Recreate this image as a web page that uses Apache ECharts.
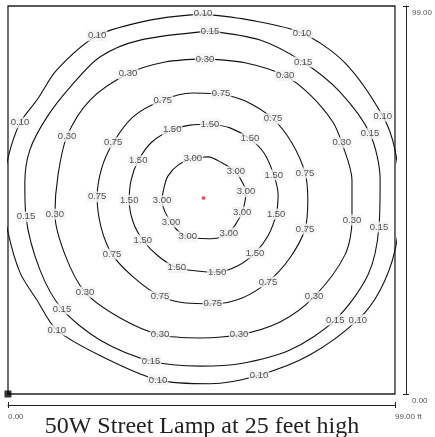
<!DOCTYPE html>
<html>
<head>
<meta charset="utf-8">
<script src="https://cdn.jsdelivr.net/npm/echarts@6/dist/echarts.min.js"></script>
<style>
html,body{margin:0;padding:0;background:#fff;}
#chart{width:435px;height:437px;}
</style>
</head>
<body>
<div id="chart"></div>
<script>
// ---- Data (feet) ----
const titleText = '50W Street Lamp at 25 feet high';
const axisMin = 0;
const axisMax = 99;
const axisUnit = 'ft';
const lampPosition = [50, 50];
const originMarker = [0, 0];

const contourLevels = ['0.10', '0.15', '0.30', '0.75', '1.50', '3.00'];

const contour010 = [[49.9,97.0],[61.9,95.4],[75.2,92.1],[86.2,84.5],[95.9,70.9],[99.0,62.3],[100.3,49.5],[99.0,36.7],[95.2,26.5],[89.5,18.9],[77.3,10.0],[64.2,4.8],[51.7,2.6],[38.4,3.6],[24.8,9.2],[12.5,16.3],[7.4,24.0],[3.1,30.9],[0,41.3],[-1.3,50.8],[0,60.2],[3.1,69.2],[7.4,75.0],[12.5,82.7],[22.8,91.4],[36.3,95.4],[49.9,97.0]];
const contour015 = [[51.7,92.6],[64.5,90.3],[75.5,84.7],[84.9,77.1],[92.6,66.4],[95.2,54.6],[94.9,42.6],[92.1,30.4],[83.7,18.9],[72.1,11.2],[59.3,7.7],[49.1,7.1],[36.6,8.4],[23.5,13.8],[13.8,21.7],[8.2,31.6],[4.6,45.2],[4.3,53.8],[5.6,62.3],[10.0,70.7],[15.9,78.3],[23.5,86.0],[33.8,90.3],[51.7,92.6]];
const contour030 = [[50.4,85.5],[60.6,84.5],[70.9,81.2],[77.3,76.3],[83.1,69.4],[85.4,64.1],[88.0,54.6],[88.0,44.4],[86.2,35.5],[78.3,24.8],[69.6,18.4],[59.1,15.1],[49.1,14.3],[38.9,15.1],[28.7,19.4],[19.7,26.0],[14.6,35.5],[12.0,45.9],[12.8,55.9],[15.1,65.8],[21.0,75.0],[30.7,81.7],[40.2,84.7],[50.4,85.5]];
const contour075 = [[54.5,76.6],[60.6,74.8],[67.8,70.2],[72.6,64.1],[76.0,56.4],[76.7,49.5],[76.0,42.1],[72.1,34.7],[66.5,28.6],[59.9,24.5],[52.4,23.0],[45.5,23.2],[38.9,25.0],[32.0,29.9],[26.6,35.7],[23.8,42.6],[22.8,50.3],[24.0,57.7],[26.9,64.1],[32.0,70.7],[39.6,75.0],[47.1,76.8],[54.5,76.6]];
const contour150 = [[51.7,68.9],[56.8,67.9],[61.9,65.1],[65.5,61.5],[68.0,55.9],[69.1,50.8],[68.6,45.9],[66.5,40.3],[63.2,36.0],[58.8,32.7],[53.5,31.1],[48.3,31.4],[43.2,32.2],[38.4,35.2],[34.5,39.3],[32.0,43.9],[31.0,49.5],[31.5,54.6],[33.3,59.5],[36.8,64.3],[42.0,67.4],[46.6,68.6],[51.7,68.9]];
const contour300 = [[49.3,60.4],[51.2,60.5],[54.7,59.0],[58.3,56.7],[59.9,54.1],[60.9,51.6],[60.6,49.0],[59.9,46.4],[58.3,43.4],[56.5,41.1],[53.7,39.8],[51.2,39.6],[46.0,40.1],[43.5,41.6],[41.7,43.9],[40.2,46.4],[39.4,49.3],[39.9,52.6],[40.9,55.6],[43.5,58.4],[47.3,60.2],[49.3,60.4]];

const labels010 = [[49.9,97.0],[75.2,92.1],[95.9,70.9],[89.5,18.9],[64.2,4.8],[38.4,3.6],[12.5,16.3],[3.1,69.2],[22.8,91.4]];
const labels015 = [[51.7,92.6],[75.5,84.7],[92.6,66.4],[94.9,42.6],[83.7,18.9],[36.6,8.4],[13.8,21.7],[4.6,45.2]];
const labels030 = [[50.4,85.5],[70.9,81.2],[85.4,64.1],[88.0,44.4],[78.3,24.8],[59.1,15.1],[38.9,15.1],[19.7,26.0],[12.0,45.9],[15.1,65.8],[30.7,81.7]];
const labels075 = [[54.5,76.6],[67.8,70.2],[76.0,56.4],[76.0,42.1],[66.5,28.6],[52.4,23.0],[38.9,25.0],[26.6,35.7],[22.8,50.3],[26.9,64.1],[39.6,75.0]];
const labels150 = [[51.7,68.9],[61.9,65.1],[68.0,55.9],[68.6,45.9],[63.2,36.0],[53.5,31.1],[43.2,32.2],[34.5,39.3],[31.0,49.5],[33.3,59.5],[42.0,67.4]];
const labels300 = [[47.3,60.2],[58.3,56.7],[60.9,51.6],[59.9,46.4],[56.5,41.1],[46.0,40.1],[41.7,43.9],[39.4,49.3]];

const contourLines = [contour010, contour015, contour030, contour075, contour150, contour300];
const contourLabels = [labels010, labels015, labels030, labels075, labels150, labels300];

// ---- Chart ----
const chart = echarts.init(document.getElementById('chart'), null, {renderer: 'canvas'});
const sans = 'Liberation Sans, Arial, sans-serif';
const series = [];
contourLines.forEach((pts, i) => {
  series.push({
    type: 'line', xAxisIndex: 0, yAxisIndex: 0,
    data: pts, smooth: 0.3, symbol: 'none', clip: true,
    lineStyle: {color: '#111', width: 1.1},
    silent: true, z: 2, animation: false
  });
});
contourLabels.forEach((pts, i) => {
  series.push({
    type: 'scatter', xAxisIndex: 0, yAxisIndex: 0,
    data: pts.map(p => [p[0], p[1], contourLevels[i]]),
    symbolSize: 0, clip: false, z: 5, animation: false, silent: true,
    label: {
      show: true, position: 'inside',
      formatter: p => p.value[2],
      fontFamily: sans, fontSize: 9.5, color: '#2a2a2a',
      backgroundColor: '#f3f3f3', padding: [1, 1, 0, 1]
    }
  });
});
series.push({
  type: 'scatter', xAxisIndex: 0, yAxisIndex: 0, data: [lampPosition],
  symbol: 'rect', symbolSize: 3, itemStyle: {color: '#ff0000'}, z: 6, animation: false, silent: true
});
series.push({
  type: 'scatter', xAxisIndex: 0, yAxisIndex: 0, data: [originMarker],
  symbol: 'rect', symbolSize: 7, itemStyle: {color: '#000'}, clip: false, z: 6, animation: false, silent: true
});

const fmtX = v => v === axisMax ? v.toFixed(2) + ' ' + axisUnit : v.toFixed(2);
const fmtY = v => v.toFixed(2);

chart.setOption({
  backgroundColor: '#fff',
  animation: false,
  title: {
    text: titleText, left: 197, top: 410, textAlign: 'center',
    textStyle: {fontFamily: 'Liberation Serif, Times New Roman, serif', fontSize: 24, fontWeight: 'normal', color: '#222'}
  },
  grid: {left: 8, right: 40, top: 6, bottom: 43, show: true, borderColor: '#222', borderWidth: 1.3, backgroundColor: '#fff'},
  xAxis: [
    {type: 'value', min: axisMin, max: axisMax, show: false},
    {type: 'value', min: axisMin, max: axisMax, interval: axisMax, position: 'bottom', offset: 11,
      axisLine: {show: true, onZero: false, lineStyle: {color: '#222', width: 1}},
      axisTick: {show: true, inside: false, length: 3, lineStyle: {color: '#222', width: 1}},
      axisLabel: {show: true, align: 'left', margin: 8, fontFamily: sans, fontSize: 8, color: '#555', formatter: fmtX},
      splitLine: {show: false}},
    {type: 'value', min: axisMin, max: axisMax, interval: axisMax, position: 'bottom', offset: 11,
      axisLine: {show: false, onZero: false},
      axisTick: {show: true, inside: true, length: 3, lineStyle: {color: '#222', width: 1}},
      axisLabel: {show: false}, splitLine: {show: false}}
  ],
  yAxis: [
    {type: 'value', min: axisMin, max: axisMax, show: false},
    {type: 'value', min: axisMin, max: axisMax, interval: axisMax, position: 'right', offset: 11,
      axisLine: {show: true, onZero: false, lineStyle: {color: '#222', width: 1}},
      axisTick: {show: true, inside: false, length: 3, lineStyle: {color: '#222', width: 1}},
      axisLabel: {show: true, margin: 6, verticalAlign: 'top', padding: [3, 0, 0, 0], fontFamily: sans, fontSize: 8, color: '#555', formatter: fmtY},
      splitLine: {show: false}},
    {type: 'value', min: axisMin, max: axisMax, interval: axisMax, position: 'right', offset: 11,
      axisLine: {show: false, onZero: false},
      axisTick: {show: true, inside: true, length: 3, lineStyle: {color: '#222', width: 1}},
      axisLabel: {show: false}, splitLine: {show: false}}
  ],
  series: series
});
</script>
</body>
</html>
